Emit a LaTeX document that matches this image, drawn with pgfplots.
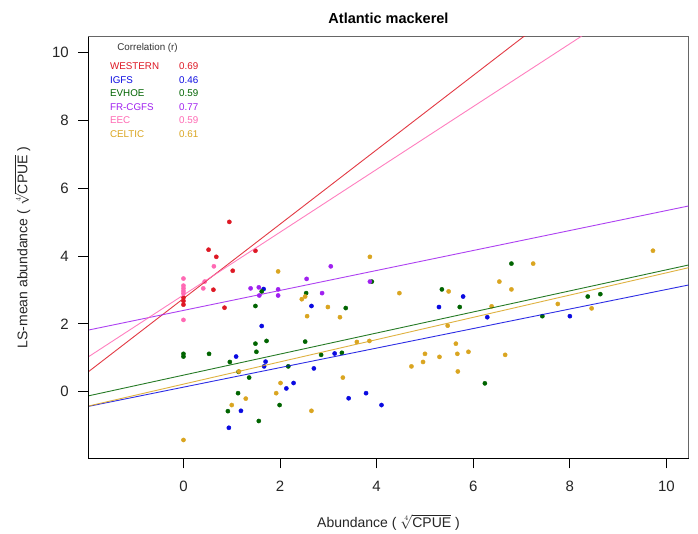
\documentclass[border=0pt]{standalone}
\usepackage{fontspec}
\setmainfont{Liberation Sans}
\usepackage{pgfplots}
\pgfplotsset{compat=1.18}

\definecolor{cwest}{RGB}{222,24,36}
\definecolor{cigfs}{RGB}{10,10,225}
\definecolor{cevhoe}{RGB}{0,100,0}
\definecolor{cfrcgfs}{RGB}{160,32,240}
\definecolor{ceec}{RGB}{255,105,180}
\definecolor{ccelt}{RGB}{218,165,32}

\pgfplotsset{
  pts/.style={only marks, mark=*, mark size=2.1bp, color=#1, mark options={draw=none, fill=#1}},
  reg/.style={no marks, color=#1, line width=0.9bp, opacity=0.85},
}

\begin{document}
\begin{tikzpicture}
\fill[white] (0,0) rectangle (698bp,534bp);
\useasboundingbox (0,0) rectangle (698bp,534bp);
\begin{axis}[
  at={(88.3bp,75.7bp)}, anchor=south west,
  scale only axis, width=600.4bp, height=421.6bp,
  xmin=-1.97, xmax=10.46, ymin=-1.96, ymax=10.47,
  xtick={0,2,...,10}, ytick={0,2,...,10},
  tick pos=left, tick align=outside,
  major tick length=10bp,
  tick style={draw=black, line width=1bp},
  axis line style={draw=black!60, line width=0.9bp},
  ticklabel style={font=\fontsize{15bp}{17bp}\selectfont, text=black!85},
  /pgf/number format/assume math mode=true,
  yticklabel style={xshift=-6bp},
  xticklabel style={yshift=-9bp},
  clip mode=individual,
]
% WESTERN
\addplot[pts=cwest] coordinates {
 (0,2.57) (0,2.68) (0,2.78) (0.52,4.19) (0.62,3.01) (0.68,3.98)
 (0.85,2.48) (0.95,5.01) (1.02,3.57) (1.49,4.16)};
% IGFS
\addplot[pts=cigfs] coordinates {
 (0.94,-1.06) (1.09,1.04) (1.19,-0.56) (1.62,1.94) (1.66,3.03) (1.67,0.75)
 (1.70,0.89) (2.13,0.10) (2.28,0.26) (2.65,2.53) (2.70,0.69) (3.13,1.13)
 (3.42,-0.19) (3.78,-0.04) (4.10,-0.39) (5.29,2.50) (5.79,2.81) (6.29,2.20)
 (8.00,2.23)};
% EVHOE
\addplot[pts=cevhoe] coordinates {
 (0,1.04) (0,1.12) (0.53,1.12) (0.92,-0.57) (0.96,0.88) (1.13,-0.04)
 (1.14,0.59) (1.36,0.42) (1.49,1.42) (1.49,2.53) (1.51,1.18) (1.56,-0.86)
 (1.62,2.96) (1.72,1.50) (1.99,-0.39) (2.17,0.75) (2.52,1.48) (2.54,2.91)
 (2.85,1.09) (3.28,1.15) (3.36,2.47) (3.90,3.25) (5.35,3.02) (5.72,2.50)
 (6.24,0.25) (6.79,3.78) (7.43,2.23) (8.37,2.81) (8.63,2.88)};
% FR-CGFS
\addplot[pts=cfrcgfs] coordinates {
 (1.39,3.05) (1.56,3.08) (1.57,2.84) (1.96,3.02) (1.96,2.84) (2.55,3.33)
 (2.87,2.91) (3.05,3.70) (3.86,3.25)};
% EEC
\addplot[pts=ceec] coordinates {
 (0,2.12) (0,2.90) (0,2.97) (0,3.05) (0,3.13) (0,3.34) (0.41,3.05)
 (0.44,3.25) (0.63,3.70)};
% CELTIC
\addplot[pts=ccelt] coordinates {
 (0,-1.42) (1.00,-0.39) (1.15,0.60) (1.29,-0.20) (1.92,-0.04) (1.96,3.55)
 (2.01,0.26) (2.45,2.73) (2.52,2.81) (2.56,2.23) (2.65,-0.56) (2.99,2.50)
 (3.24,2.20) (3.30,0.42) (3.59,1.47) (3.85,1.50) (3.86,3.98) (4.47,2.91)
 (4.72,0.75) (4.96,0.88) (5.00,1.12) (5.30,1.03) (5.47,1.95) (5.49,2.96)
 (5.64,1.42) (5.67,1.12) (5.68,0.60) (5.90,1.18) (6.38,2.52) (6.54,3.25)
 (6.66,1.09) (6.79,3.02) (7.24,3.78) (7.75,2.59) (8.45,2.46) (9.72,4.16)};
% regression lines
\addplot[reg=cwest]   coordinates {(-1.97,0.59) (10.46,14.22)};
\addplot[reg=cigfs]   coordinates {(-1.97,-0.43) (10.46,3.15)};
\addplot[reg=cevhoe]  coordinates {(-1.97,-0.12) (10.46,3.74)};
\addplot[reg=cfrcgfs] coordinates {(-1.97,1.82) (10.46,5.48)};
\addplot[reg=ceec]    coordinates {(-1.97,1.03) (10.46,12.54)};
\addplot[reg=ccelt]   coordinates {(-1.97,-0.42) (10.46,3.66)};

% positions for the outward ticks, drawn after the axis
\coordinate (bl) at (rel axis cs:0,0);
\coordinate (tl) at (rel axis cs:0,1);
\coordinate (br) at (rel axis cs:1,0);
\coordinate (x0) at (axis cs:0,-1.96);
\coordinate (x2) at (axis cs:2,-1.96);
\coordinate (x4) at (axis cs:4,-1.96);
\coordinate (x6) at (axis cs:6,-1.96);
\coordinate (x8) at (axis cs:8,-1.96);
\coordinate (x10) at (axis cs:10,-1.96);
\coordinate (y0) at (axis cs:-1.97,0);
\coordinate (y2) at (axis cs:-1.97,2);
\coordinate (y4) at (axis cs:-1.97,4);
\coordinate (y6) at (axis cs:-1.97,6);
\coordinate (y8) at (axis cs:-1.97,8);
\coordinate (y10) at (axis cs:-1.97,10);

% correlation box
\begin{scope}[every node/.style={anchor=west, inner sep=0pt, font=\fontsize{9.8bp}{11bp}\selectfont}]
\node[text=black!80] at (rel axis cs:0.048,0.973) {Correlation (r)};
\node[text=cwest]   at (rel axis cs:0.036,0.930) {WESTERN};
\node[text=cigfs]   at (rel axis cs:0.036,0.898) {IGFS};
\node[text=cevhoe]  at (rel axis cs:0.036,0.866) {EVHOE};
\node[text=cfrcgfs] at (rel axis cs:0.036,0.834) {FR-CGFS};
\node[text=ceec]    at (rel axis cs:0.036,0.802) {EEC};
\node[text=ccelt]   at (rel axis cs:0.036,0.770) {CELTIC};
\node[text=cwest]   at (rel axis cs:0.151,0.930) {0.69};
\node[text=cigfs]   at (rel axis cs:0.151,0.898) {0.46};
\node[text=cevhoe]  at (rel axis cs:0.151,0.866) {0.59};
\node[text=cfrcgfs] at (rel axis cs:0.151,0.834) {0.77};
\node[text=ceec]    at (rel axis cs:0.151,0.802) {0.59};
\node[text=ccelt]   at (rel axis cs:0.151,0.770) {0.61};
\end{scope}

\node[font=\bfseries\fontsize{14.5bp}{16bp}\selectfont] at (rel axis cs:0.5,1.044) {Atlantic mackerel};
\node[font=\fontsize{14bp}{16bp}\selectfont, text=black!85] at (rel axis cs:0.5,-0.151) {Abundance ( $\sqrt[4]{\mbox{CPUE}}$ )};
\node[font=\fontsize{14bp}{16bp}\selectfont, text=black!85, rotate=90] at (rel axis cs:-0.110,0.5) {LS-mean abundance ( $\sqrt[4]{\mbox{CPUE}}$ )};
\end{axis}
\draw[black, line width=0.9bp] (tl) -- (bl) -- (br);
\foreach \c in {x0,x2,x4,x6,x8,x10}
  \fill[black] ([xshift=-0.5bp]\c) rectangle ([xshift=0.5bp,yshift=-10bp]\c);
\foreach \c in {y0,y2,y4,y6,y8,y10}
  \fill[black] ([yshift=-0.5bp]\c) rectangle ([xshift=-10bp,yshift=0.5bp]\c);
\end{tikzpicture}
\end{document}
